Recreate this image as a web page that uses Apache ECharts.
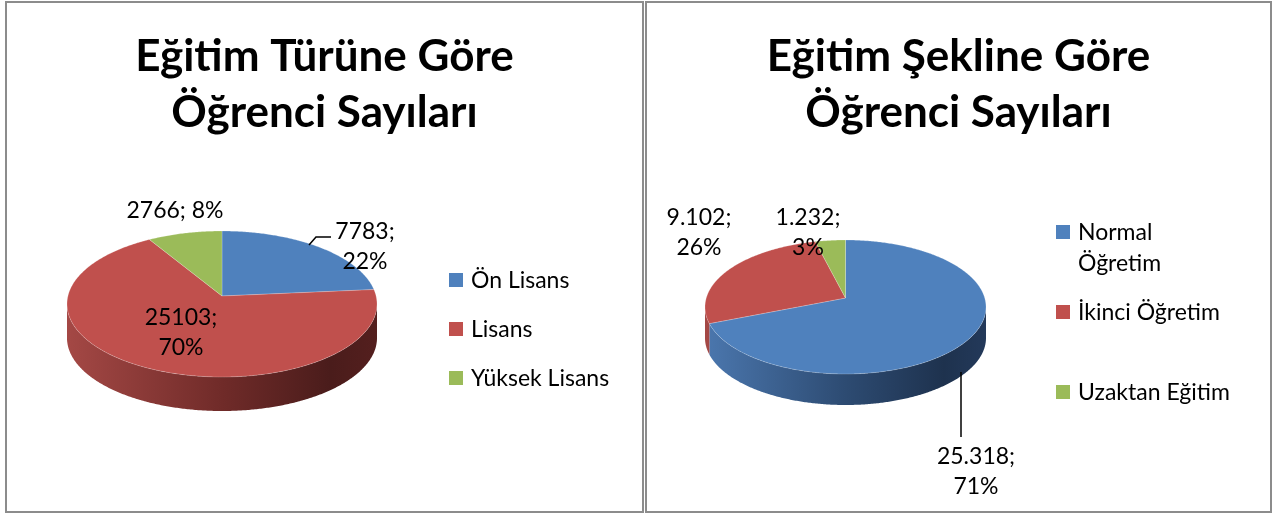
<!DOCTYPE html>
<html lang="tr">
<head>
<meta charset="UTF-8">
<title>Öğrenci Sayıları</title>
<script src="https://cdn.jsdelivr.net/npm/echarts@6/dist/echarts.min.js"></script>
<style>
  body { margin: 0; background: #fff; }
  .panel { position: absolute; top: 1px; height: 512px; box-sizing: border-box; border: 2px solid #8c8c8c; background: #fff; }
</style>
</head>
<body>
<div id="tur" class="panel" style="left:5px;width:639px;"></div>
<div id="sekil" class="panel" style="left:645px;width:627px;"></div>
<script>
// veriler
var turNames = ['Ön Lisans', 'Lisans', 'Yüksek Lisans'];
var turValues = [7783, 25103, 2766];
var sekilNames = ['Normal Öğretim', 'İkinci Öğretim', 'Uzaktan Eğitim'];
var sekilValues = [25318, 9102, 1232];

var topColors = ['#4f81bd', '#c0504d', '#9bbb59'];
// yan yüz renkleri (soldan sağa koyulaşıyor)
var sideColors = [
  ['#4b77ae', '#2d4b72', '#1e324e', '#23395a'],
  ['#a44845', '#702b29', '#4a1c1b', '#541f1e'],
  ['#8cab50', '#5f7536', '#414f25', '#4a5a2a']
];
var FONT = 'Lato, "Open Sans", sans-serif';

function plain(v) { return String(v); }
function dotted(v) { return String(v).replace(/\B(?=(\d{3})+(?!\d))/g, '.'); }

function pie3d(dom, opt) {
  var chart = echarts.init(dom);
  var total = opt.values.reduce(function (a, b) { return a + b; }, 0);
  var p = opt.pie;

  function pt(a, dy) {
    return [p.cx + p.rx * Math.cos(a), p.cy + p.ry * Math.sin(a) + (dy || 0)];
  }
  function arc(a0, a1, dy) {
    var pts = [], n = Math.max(2, Math.ceil((a1 - a0) / 0.01));
    for (var k = 0; k <= n; k++) pts.push(pt(a0 + (a1 - a0) * k / n, dy));
    return pts;
  }

  var graphics = [];
  // lejant
  opt.names.forEach(function (name, i) {
    var lg = opt.legend;
    var txt = lg.breakAt[i] ? name.replace(' ', '\n') : name;
    graphics.push({ type: 'rect', left: lg.x, top: lg.rows[i] - 7,
      shape: { width: 14, height: 14 }, style: { fill: topColors[i] } });
    graphics.push({ type: 'text', x: lg.x + 22, y: lg.rows[i] - 15,
      style: { text: txt, fill: '#000', fontSize: 23, fontFamily: FONT,
        lineHeight: 31, verticalAlign: 'top' } });
  });
  // etiket çizgileri
  opt.leaders.forEach(function (pts) {
    graphics.push({ type: 'polyline', shape: { points: pts },
      style: { stroke: '#000', lineWidth: 1.5, fill: null }, z: 10 });
  });

  chart.setOption({
    animation: false,
    title: {
      text: opt.title, left: 'center', top: 21,
      textStyle: { fontSize: 44, fontWeight: 'bold', fontFamily: FONT, color: '#000', lineHeight: 56 }
    },
    graphic: graphics,
    series: [{
      type: 'custom',
      coordinateSystem: 'none',
      data: opt.values.map(function (v, i) { return { name: opt.names[i], value: [v] }; }),
      renderItem: function (params, api) {
        var i = params.dataIndex;
        var before = 0;
        for (var j = 0; j < i; j++) before += opt.values[j];
        var v = api.value(0);
        var a0 = -Math.PI / 2 + 2 * Math.PI * before / total;
        var a1 = a0 + 2 * Math.PI * v / total;
        var children = [];
        // ön yüz
        var s = Math.max(a0, 0), e = Math.min(a1, Math.PI);
        if (e > s) {
          var up = arc(s, e, 0), down = arc(s, e, p.depth).reverse();
          var sc = sideColors[i];
          children.push({
            type: 'polygon', z2: 1,
            shape: { points: up.concat(down) },
            style: { fill: new echarts.graphic.LinearGradient(p.cx - p.rx, 0, p.cx + p.rx, 0, [
              { offset: 0, color: sc[0] }, { offset: 0.5, color: sc[1] },
              { offset: 0.85, color: sc[2] }, { offset: 1, color: sc[3] }
            ], true), stroke: null }
          });
        }
        // üst yüz
        children.push({
          type: 'polygon', z2: 2,
          shape: { points: [[p.cx, p.cy + p.apexDy]].concat(arc(a0, a1, 0)) },
          style: { fill: topColors[i], stroke: 'rgba(255,255,255,0.35)', lineWidth: 0.6 }
        });
        var lb = opt.labels[i];
        var pct = Math.round(v / total * 100);
        children.push({
          type: 'text', z2: 5, x: lb.x, y: lb.y,
          style: { text: opt.format(v) + ';' + lb.sep + pct + '%', fill: '#000',
            fontSize: 23, fontFamily: FONT, lineHeight: 30, align: 'center', verticalAlign: 'middle' }
        });
        return { type: 'group', children: children };
      }
    }]
  });
  return chart;
}

pie3d(document.getElementById('tur'), {
  title: 'Eğitim Türüne Göre\nÖğrenci Sayıları',
  names: turNames,
  values: turValues,
  format: plain,
  pie: { cx: 215, cy: 301, rx: 155, ry: 73, depth: 34, apexDy: -8 },
  labels: [
    { x: 358, y: 244, sep: '\n' },
    { x: 174, y: 330, sep: '\n' },
    { x: 168, y: 208, sep: ' ' }
  ],
  leaders: [[[302, 242], [309, 234], [324, 234]]],
  legend: { x: 442, rows: [277, 326, 375], breakAt: [false, false, false] }
});

pie3d(document.getElementById('sekil'), {
  title: 'Eğitim Şekline Göre\nÖğrenci Sayıları',
  names: sekilNames,
  values: sekilValues,
  format: dotted,
  pie: { cx: 198.5, cy: 304, rx: 140.5, ry: 67, depth: 31, apexDy: -9 },
  labels: [
    { x: 329, y: 469, sep: '\n' },
    { x: 52, y: 230, sep: '\n' },
    { x: 161, y: 230, sep: '\n' }
  ],
  leaders: [[[314, 369], [314, 434]]],
  legend: { x: 409, rows: [229, 309, 389], breakAt: [true, false, false] }
});
</script>
</body>
</html>
